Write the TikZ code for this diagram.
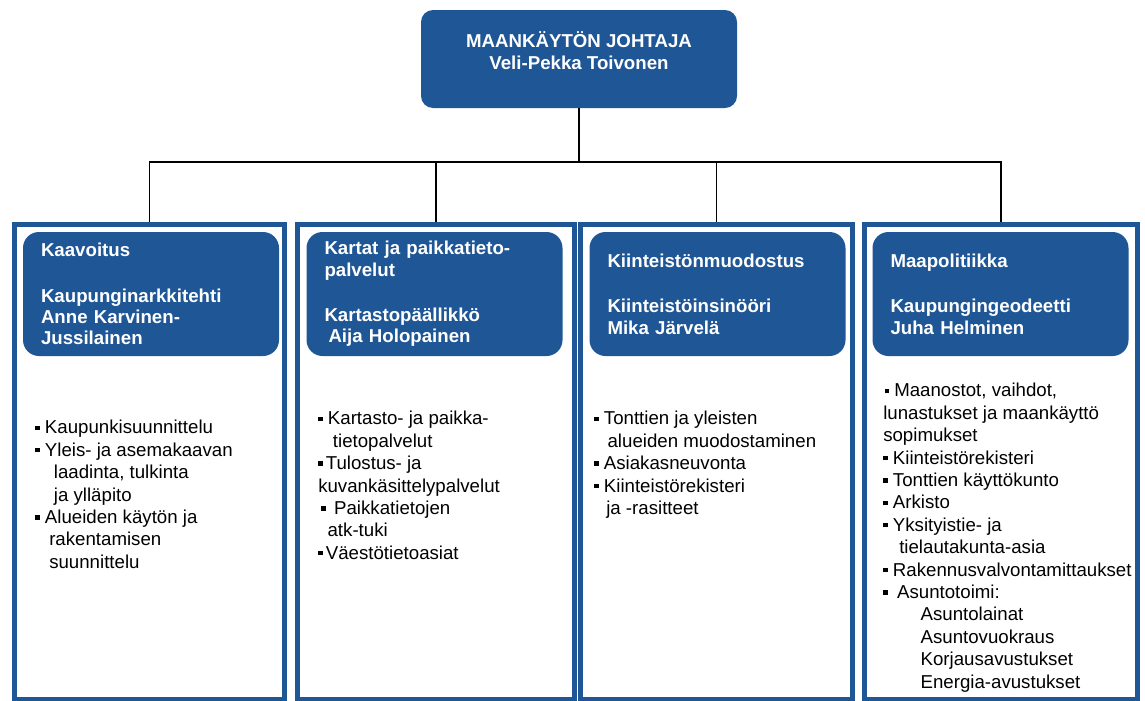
\documentclass[tikz,border=0pt]{standalone}
\usepackage{fontspec}
\setmainfont{Liberation Sans}
\usetikzlibrary{fit}
\definecolor{mapblue}{RGB}{31,86,150}
\newcommand{\sqbul}{\rule[.2em]{.24em}{.24em}}
\tikzset{
	bossbox/.style={fill=mapblue, rounded corners=9pt, inner sep=0pt, text=white,
		align=center, font=\bfseries\fontsize{14}{16.5}\selectfont},
	hdrbox/.style={fill=mapblue, rounded corners=12pt, inner xsep=13.5pt, inner ysep=0pt, text=white,
		text width=165pt, minimum width=192pt, minimum height=93pt, align=left,
		font=\bfseries\fontsize{14}{16}\selectfont},
	colbox/.style={draw=mapblue, line width=3.2pt, inner sep=0pt},
	bodytext/.style={anchor=north west, inner sep=0pt, align=left, text=black,
		font=\fontsize{14}{16.8}\selectfont},
	wire/.style={draw=black, line width=1.2pt}
}
\begin{document}
\begin{tikzpicture}[x=0.75pt, y=-0.75pt]
		\useasboundingbox (0,0) rectangle (1145,700);

		% columns
		\node[colbox, fit={(14.5,224.5) (284.5,699)}] (col1) {};
		\node[colbox, fit={(297.5,224.5) (574.5,699)}] (col2) {};
		\node[colbox, fit={(580.5,224.5) (852.5,699)}] (col3) {};
		\node[colbox, fit={(864.5,224.5) (1137.5,699)}] (col4) {};

		% boss
		\node[bossbox, fit={(421,10) (737,108)}] (boss) {MAANKÄYTÖN JOHTAJA\\Veli-Pekka Toivonen};

		% unit heads
		\node[hdrbox] (hdr1) at (151,294) {Kaavoitus\\[18pt]Kaupunginarkkitehti\\Anne Karvinen-\\Jussilainen};
		\node[hdrbox] (hdr2) at (434.5,294) {Kartat ja paikkatieto-\\palvelut\\[18pt]Kartastopäällikkö\\\hspace*{3pt}Aija Holopainen};
		\node[hdrbox] (hdr3) at (717.5,294) {Kiinteistönmuodostus\\[18pt]Kiinteistöinsinööri\\Mika Järvelä};
		\node[hdrbox] (hdr4) at (1000.5,294) {Maapolitiikka\\[18pt]Kaupungingeodeetti\\Juha Helminen};

		% tasks
		\node[bodytext] (body1) at (35,420) {\sqbul{} Kaupunkisuunnittelu\\
			\sqbul{} Yleis- ja asemakaavan\\
			\hspace*{14pt}laadinta, tulkinta\\
			\hspace*{14pt}ja ylläpito\\
			\sqbul{} Alueiden käytön ja\\
			\hspace*{10.5pt}rakentamisen\\
			\hspace*{10.5pt}suunnittelu};
		\node[bodytext] (body2) at (318,411) {\sqbul{} Kartasto- ja paikka-\\
			\hspace*{11pt}tietopalvelut\\
			\sqbul\,Tulostus- ja\\
			kuvankäsittelypalvelut\\
			\,\sqbul{} \,Paikkatietojen\\
			\hspace*{7pt}atk-tuki\\
			\sqbul\,Väestötietoasiat};
		\node[bodytext] (body3) at (594,411) {\sqbul{} Tonttien ja yleisten\\
			\hspace*{10pt}alueiden muodostaminen\\
			\sqbul{} Asiakasneuvonta\\
			\sqbul{} Kiinteistörekisteri\\
			\hspace*{9pt}ja -rasitteet};
		\node[bodytext] (body4) at (883,383) {\hspace*{1pt}\sqbul{} Maanostot, vaihdot,\\
			lunastukset ja maankäyttö\\
			sopimukset\\
			\sqbul{} Kiinteistörekisteri\\
			\sqbul{} Tonttien käyttökunto\\
			\sqbul{} Arkisto\\
			\sqbul{} Yksityistie- ja\\
			\hspace*{12pt}tielautakunta-asia\\
			\sqbul{} Rakennusvalvontamittaukset\\
			\sqbul{}\hspace*{7pt}Asuntotoimi:\\
			\hspace*{28pt}Asuntolainat\\
			\hspace*{28pt}Asuntovuokraus\\
			\hspace*{28pt}Korjausavustukset\\
			\hspace*{28pt}Energia-avustukset};

		% connectors
		\coordinate (bus) at (579,162);
		\draw[wire] (boss.south) -- (bus);
		\foreach \c in {col1,col2,col3,col4}
			\draw[wire] (bus) -| (\c.north);
	\end{tikzpicture}
\end{document}
